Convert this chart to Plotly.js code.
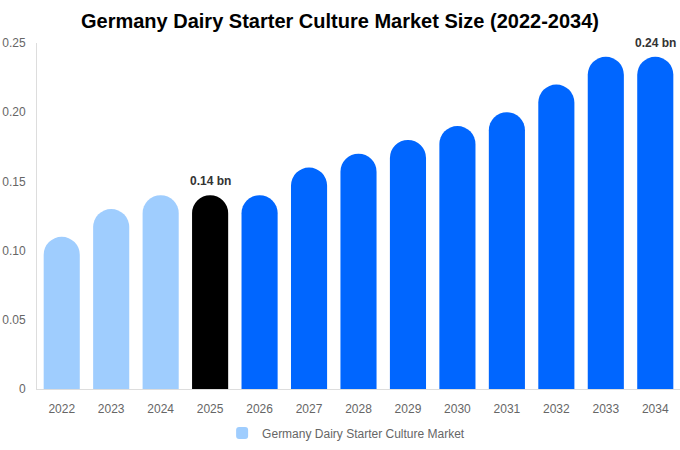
<!DOCTYPE html>
<html><head><meta charset="utf-8">
<script src="https://cdn.plot.ly/plotly-3.0.1.min.js"></script>
<style>html,body{margin:0;padding:0;background:#fff}#c{width:680px;height:450px}</style>
</head><body><div id="c"></div>
<script>
const years = ['2022','2023','2024','2025','2026','2027','2028','2029','2030','2031','2032','2033','2034'];
const values = [0.11,0.13,0.14,0.14,0.14,0.16,0.17,0.18,0.19,0.20,0.22,0.24,0.24];
const barColors = ['#9FCDFE','#9FCDFE','#9FCDFE','#000000','#0066FF','#0066FF','#0066FF','#0066FF','#0066FF','#0066FF','#0066FF','#0066FF','#0066FF'];
const yTickVals = [0,0.05,0.10,0.15,0.20,0.25];
const yTickText = ['0','0.05','0.10','0.15','0.20','0.25'];
const labelIdx = [3,12];
const labelText = ['0.14 bn','0.24 bn'];
const seriesName = 'Germany Dairy Starter Culture Market';

const trace = {
  type:'bar', x:years, y:values, name:seriesName,
  marker:{color:barColors, cornerradius:18},
  showlegend:true, hoverinfo:'x+y'
};
const annotations = labelIdx.map((i,k)=>({
  x:i, y:values[i], xref:'x', yref:'y', text:'<b>'+labelText[k]+'</b>',
  showarrow:false, yanchor:'bottom', yshift:5,
  font:{family:'Liberation Sans, Arial, sans-serif', size:12, color:'#333'}
}));
const layout = {
  width:680, height:450,
  margin:{l:37,r:0,t:43,b:61},
  paper_bgcolor:'#fff', plot_bgcolor:'#fff',
  font:{family:'Liberation Sans, Arial, sans-serif', size:12, color:'#666'},
  title:{text:'<b>Germany Dairy Starter Culture Market Size (2022-2034)</b>', x:0.5, xref:'container', y:0.953, yref:'container', yanchor:'middle', xanchor:'center',
    font:{family:'Liberation Sans, Arial, sans-serif', size:20, color:'#000'}},
  bargap:0.27,
  xaxis:{type:'category', showgrid:false, showline:true, linecolor:'#ddd', linewidth:1, ticks:'outside', ticklen:9, tickcolor:'rgba(0,0,0,0)', tickfont:{size:12,color:'#666'}, zeroline:false},
  yaxis:{range:[0,0.25], tickvals:yTickVals, ticktext:yTickText, showgrid:false, showline:true, linecolor:'#ddd', linewidth:1, zeroline:false, ticks:'outside', ticklen:8, tickcolor:'rgba(0,0,0,0)', tickfont:{size:12,color:'#666'}},
  legend:{orientation:'h', xref:'container', yref:'container', x:0.509, xanchor:'center', y:0.038, yanchor:'middle', font:{size:12,color:'#666'}},
  annotations:annotations
};
Plotly.newPlot('c',[trace],layout,{displayModeBar:false,staticPlot:true});
</script></body></html>
